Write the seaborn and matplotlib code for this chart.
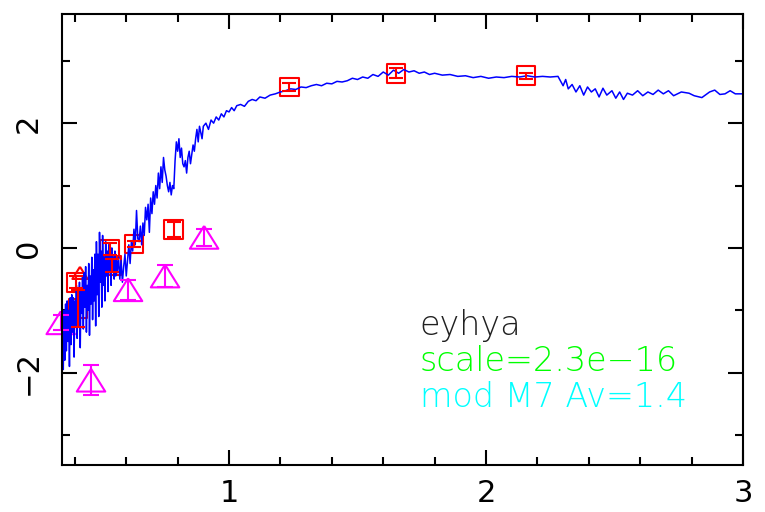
import matplotlib
matplotlib.use("Agg")
import matplotlib.pyplot as plt
from matplotlib.ticker import MultipleLocator
import numpy as np
import pandas as pd
import seaborn as sns

# Model spectrum (wavelength in micron, log flux)
spec_x = [
    0.350, 0.352, 0.355, 0.358, 0.361, 0.364, 0.367, 0.370, 0.373, 0.376,
    0.379, 0.382, 0.385, 0.388, 0.391, 0.394, 0.397, 0.400, 0.403, 0.406,
    0.409, 0.412, 0.415, 0.418, 0.421, 0.424, 0.427, 0.430, 0.433, 0.436,
    0.439, 0.442, 0.445, 0.448, 0.451, 0.454, 0.457, 0.460, 0.463, 0.466,
    0.469, 0.472, 0.475, 0.478, 0.481, 0.484, 0.487, 0.490, 0.493, 0.496,
    0.499, 0.502, 0.505, 0.508, 0.511, 0.514, 0.517, 0.520, 0.523, 0.526,
    0.529, 0.532, 0.535, 0.538, 0.541, 0.544, 0.547, 0.550, 0.553, 0.556,
    0.559, 0.562, 0.565, 0.570, 0.575, 0.580, 0.585, 0.590, 0.595, 0.600,
    0.605, 0.610, 0.615, 0.620, 0.625, 0.630, 0.635, 0.640, 0.645, 0.650,
    0.655, 0.660, 0.665, 0.670, 0.675, 0.680, 0.685, 0.690, 0.695, 0.700,
    0.705, 0.710, 0.715, 0.720, 0.725, 0.730, 0.735, 0.740, 0.745, 0.750,
    0.755, 0.760, 0.765, 0.770, 0.775, 0.780, 0.785, 0.790, 0.795, 0.800,
    0.805, 0.810, 0.815, 0.820, 0.825, 0.830, 0.835, 0.840, 0.845, 0.850,
    0.855, 0.860, 0.865, 0.870, 0.875, 0.880, 0.885, 0.890, 0.895, 0.900,
    0.910, 0.920, 0.930, 0.940, 0.950, 0.960, 0.970, 0.980, 0.990, 1.000,
    1.010, 1.020, 1.030, 1.045, 1.060, 1.075, 1.090, 1.105, 1.120, 1.140,
    1.160, 1.180, 1.200, 1.220, 1.240, 1.260, 1.280, 1.300, 1.320, 1.340,
    1.360, 1.380, 1.400, 1.420, 1.440, 1.460, 1.480, 1.500, 1.520, 1.540,
    1.560, 1.580, 1.600, 1.620, 1.640, 1.660, 1.680, 1.700, 1.720, 1.740,
    1.760, 1.780, 1.800, 1.830, 1.860, 1.890, 1.920, 1.950, 1.980, 2.010,
    2.040, 2.070, 2.100, 2.130, 2.160, 2.190, 2.220, 2.250, 2.280, 2.300,
    2.310, 2.320, 2.335, 2.350, 2.365, 2.380, 2.395, 2.410, 2.425, 2.440,
    2.455, 2.470, 2.490, 2.505, 2.520, 2.535, 2.550, 2.570, 2.590, 2.610,
    2.630, 2.650, 2.670, 2.690, 2.710, 2.730, 2.760, 2.790, 2.810, 2.840,
    2.870, 2.890, 2.910, 2.930, 2.950, 2.970, 3.000,
]
spec_y = [
    -2.45, -1.30, -1.95, -1.00, -1.80, -0.90, -1.65, -0.85, -1.50, -1.00,
    -1.90, -0.80, -1.55, -0.75, -1.35, -0.80, -1.75, -0.85, -1.25, -0.60,
    -1.45, -0.70, -1.15, -0.55, -1.60, -0.65, -1.05, -0.45, -1.30, -0.40,
    -0.95, -0.30, -1.35, -0.60, -1.00, -0.25, -1.40, -0.45, -0.90, -0.15,
    -1.15, -0.35, -0.85, -0.10, -1.25, 0.10, -0.75, -0.10, -1.10, 0.25,
    -0.55, -0.05, -0.95, 0.20, -0.60, -0.15, -0.85, 0.10, -0.45, -0.05,
    -0.70, 0.05, -0.40, -0.10, -0.60, 0.00, -0.35, -0.15, -0.50, -0.05,
    -0.45, -0.20, -0.40, -0.15, -0.50, -0.20, -0.55, -0.30, -0.10, -0.45,
    -0.20, 0.05, -0.25, 0.10, -0.05, 0.30, 0.05, 0.60, 0.15, 0.10,
    0.35, 0.05, 0.40, 0.20, 0.65, 0.45, 0.70, 0.25, 0.80, 0.55,
    0.90, 0.70, 1.00, 0.80, 1.20, 0.95, 1.30, 1.05, 1.45, 1.25,
    1.15, 1.00, 0.90, 1.05, 0.85, 1.00, 0.95, 1.40, 1.70, 1.55,
    1.75, 1.45, 1.60, 1.35, 1.30, 1.40, 1.20, 1.45, 1.55, 1.35,
    1.50, 1.65, 1.55, 1.75, 1.90, 1.70, 1.95, 1.85, 1.75, 1.95,
    2.00, 1.90, 2.05, 2.00, 2.10, 2.05, 2.15, 2.10, 2.20, 2.18,
    2.25, 2.20, 2.28, 2.30, 2.27, 2.35, 2.38, 2.36, 2.42, 2.40,
    2.45, 2.47, 2.50, 2.52, 2.55, 2.54, 2.58, 2.57, 2.60, 2.62,
    2.60, 2.64, 2.63, 2.67, 2.66, 2.68, 2.72, 2.70, 2.74, 2.72,
    2.78, 2.75, 2.82, 2.77, 2.85, 2.80, 2.86, 2.82, 2.84, 2.80,
    2.82, 2.78, 2.80, 2.77, 2.78, 2.75, 2.76, 2.73, 2.75, 2.72,
    2.74, 2.73, 2.75, 2.74, 2.76, 2.74, 2.75, 2.74, 2.75, 2.60,
    2.70, 2.55, 2.62, 2.50, 2.60, 2.45, 2.58, 2.50, 2.55, 2.42,
    2.56, 2.45, 2.52, 2.40, 2.50, 2.38, 2.48, 2.45, 2.52, 2.44,
    2.50, 2.46, 2.53, 2.47, 2.52, 2.44, 2.50, 2.48, 2.44, 2.41,
    2.50, 2.53, 2.46, 2.47, 2.52, 2.47, 2.47,
]

# Photometry measured in the near-IR and optical bands (squares)
phot_x = [1.235, 1.650, 2.155, 0.405, 0.412, 0.535, 0.545, 0.630, 0.785]
phot_y = [2.58, 2.80, 2.76, -0.55, -0.97, -0.02, -0.28, 0.06, 0.30]
phot_err = [0.06, 0.08, 0.05, 0.10, 0.30, 0.10, 0.10, 0.05, 0.12]

# Extra optical point (small triangle)
opt_x = [0.420]
opt_y = [-0.40]

# Second photometric set (triangles)
tri_x = [0.345, 0.463, 0.607, 0.751, 0.903]
tri_y = [-1.20, -2.12, -0.67, -0.45, 0.17]
tri_err = [0.12, 0.24, 0.16, 0.17, 0.14]

x_ticks = [1, 2, 3]
y_ticks = [-2, 0, 2]

label_lines = ["eyhya", "scale=2.3e\u221216", "mod M7 Av=1.4"]
label_colors = ["#202020", "#00ff00", "#00ffff"]

spec = pd.DataFrame({"x": spec_x, "y": spec_y})
phot = pd.DataFrame({"x": phot_x, "y": phot_y, "err": phot_err})
opt = pd.DataFrame({"x": opt_x, "y": opt_y})
tri = pd.DataFrame({"x": tri_x, "y": tri_y, "err": tri_err})

sns.set_style("white")
plt.rcParams["font.family"] = ["DejaVu Sans"]

fig = plt.figure(figsize=(7.65, 5.12), dpi=100)
ax = fig.add_axes([62 / 765, 47 / 512, 681 / 765, 451 / 512])

sns.lineplot(data=spec, x="x", y="y", sort=False, color="#0000ff",
             linewidth=1.1, ax=ax, estimator=None)

tri_marker = [(0, 0.8), (-1, -0.8), (1, -0.8), (0, 0.8)]

ax.errorbar(phot["x"], phot["y"], yerr=phot["err"], fmt="none",
            ecolor="#ff0000", elinewidth=1.5, capsize=5, capthick=1.5)
sns.scatterplot(data=phot, x="x", y="y", marker="s", s=180,
                facecolor="none", edgecolor="#ff0000", linewidth=1.5, ax=ax)
sns.scatterplot(data=opt, x="x", y="y", marker=tri_marker, s=120,
                facecolor="none", edgecolor="#ff0000", linewidth=1.5, ax=ax)

ax.errorbar(tri["x"], tri["y"], yerr=tri["err"], fmt="none",
            ecolor="#ff00ff", elinewidth=1.5, capsize=6, capthick=1.5,
            clip_on=False)
sns.scatterplot(data=tri, x="x", y="y", marker=tri_marker, s=420,
                facecolor="none", edgecolor="#ff00ff", linewidth=1.5, ax=ax,
                clip_on=False)

ax.set_xlim(0.35, 3.0)
ax.set_ylim(-3.48, 3.75)
ax.set_xlabel("")
ax.set_ylabel("")

ax.set_xticks(x_ticks)
ax.set_xticklabels([str(t) for t in x_ticks])
ax.set_yticks(y_ticks)
ax.set_yticklabels([str(t).replace("-", "\u2212") for t in y_ticks],
                   rotation=90, va="center")
ax.xaxis.set_minor_locator(MultipleLocator(0.2))
ax.yaxis.set_minor_locator(MultipleLocator(1))

ax.tick_params(which="both", direction="in", top=True, right=True,
               bottom=True, left=True, width=1.5, color="black",
               labelsize=22, labelcolor="black")
ax.tick_params(which="major", length=11, pad=10)
ax.tick_params(axis="y", which="major", pad=14)
ax.tick_params(which="minor", length=6)

for side in ax.spines.values():
    side.set_visible(True)
    side.set_color("black")
    side.set_linewidth(1.5)

for i, (txt, col) in enumerate(zip(label_lines, label_colors)):
    ax.text(0.525, 0.31 - i * 0.08, txt, color=col, fontsize=24,
            transform=ax.transAxes, ha="left", va="center",
            fontweight="light")

if ax.get_legend() is not None:
    ax.get_legend().remove()

fig.savefig("out.png", dpi=100)
